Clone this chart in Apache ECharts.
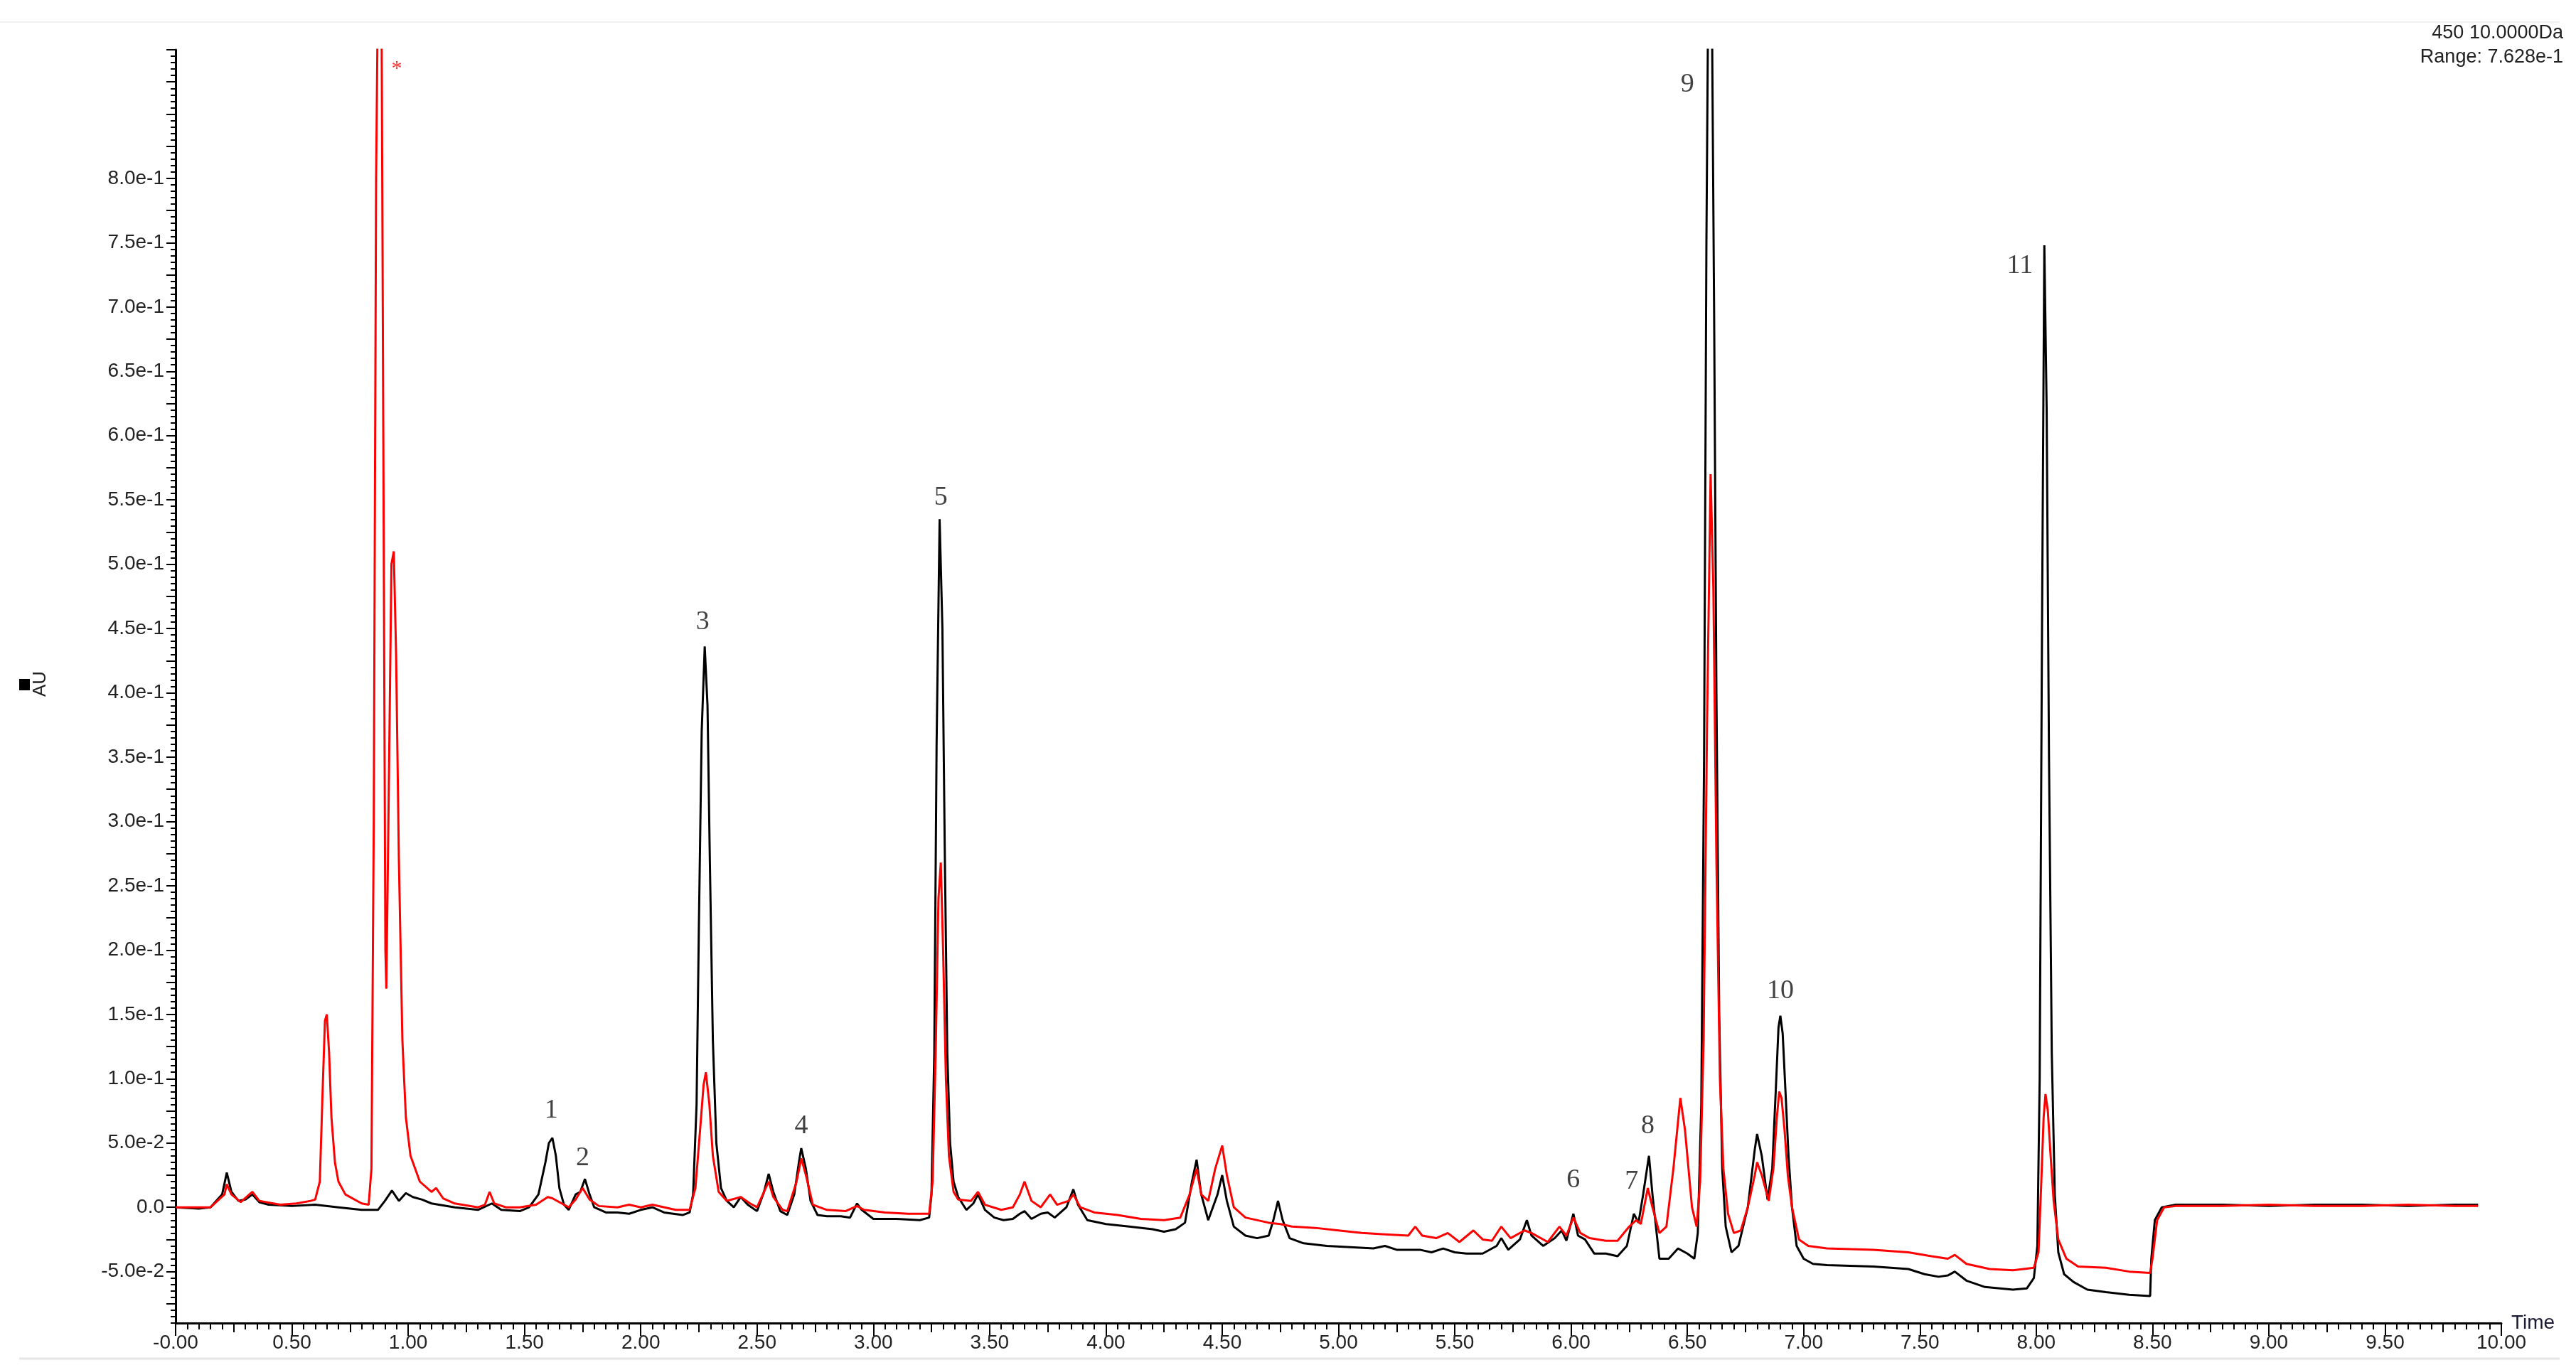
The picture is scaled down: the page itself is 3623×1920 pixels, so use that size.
<!DOCTYPE html>
<html>
<head>
<meta charset="utf-8">
<script src="https://cdn.jsdelivr.net/npm/echarts@6/dist/echarts.min.js"></script>
<style>
html,body{margin:0;padding:0;background:#fff;}
#chart{width:3623px;height:1920px;}
</style>
</head>
<body>
<div id="chart"></div>
<script>
// ---- data ----
const blackT = [0.00,0.10,0.15,0.18,0.20,0.22,0.24,0.27,0.30,0.33,0.36,0.40,0.50,0.60,0.70,0.80,0.87,0.90,0.93,0.96,0.99,1.02,1.06,1.10,1.20,1.30,1.36,1.40,1.48,1.52,1.56,1.59,1.605,1.62,1.635,1.65,1.67,1.69,1.72,1.74,1.76,1.78,1.80,1.85,1.90,1.95,2.00,2.05,2.10,2.18,2.21,2.225,2.24,2.25,2.262,2.275,2.287,2.297,2.31,2.325,2.345,2.37,2.40,2.43,2.46,2.50,2.53,2.55,2.57,2.60,2.63,2.66,2.68,2.69,2.71,2.73,2.76,2.80,2.86,2.90,2.93,2.95,3.00,3.10,3.20,3.24,3.25,3.262,3.272,3.285,3.297,3.307,3.318,3.33,3.345,3.365,3.40,3.43,3.45,3.48,3.52,3.56,3.60,3.63,3.65,3.68,3.72,3.75,3.78,3.83,3.86,3.88,3.92,4.00,4.10,4.20,4.25,4.30,4.34,4.37,4.39,4.41,4.44,4.48,4.50,4.52,4.55,4.60,4.65,4.70,4.72,4.74,4.76,4.79,4.85,4.95,5.05,5.15,5.20,5.25,5.35,5.40,5.45,5.50,5.55,5.62,5.68,5.70,5.73,5.78,5.81,5.83,5.88,5.93,5.96,5.98,6.01,6.03,6.06,6.10,6.15,6.20,6.24,6.27,6.29,6.31,6.335,6.35,6.38,6.42,6.46,6.50,6.53,6.545,6.56,6.572,6.582,6.59,6.605,6.615,6.625,6.637,6.65,6.665,6.69,6.72,6.76,6.79,6.80,6.82,6.845,6.865,6.88,6.892,6.90,6.91,6.922,6.935,6.95,6.97,7.00,7.04,7.10,7.30,7.45,7.52,7.58,7.62,7.65,7.70,7.78,7.90,7.96,7.99,8.005,8.015,8.025,8.035,8.045,8.055,8.067,8.08,8.095,8.12,8.16,8.22,8.30,8.40,8.49,8.495,8.51,8.54,8.60,8.80,9.00,9.20,9.40,9.60,9.80,9.90];
const blackV = [0.000,-0.001,0.000,0.006,0.010,0.027,0.012,0.005,0.006,0.010,0.004,0.002,0.001,0.002,0.000,-0.002,-0.002,0.005,0.013,0.005,0.011,0.008,0.006,0.003,0.000,-0.002,0.003,-0.002,-0.003,0.000,0.010,0.035,0.050,0.054,0.040,0.015,0.002,-0.002,0.010,0.012,0.022,0.010,0.000,-0.004,-0.004,-0.005,-0.002,0.000,-0.004,-0.006,-0.004,0.010,0.080,0.220,0.370,0.436,0.390,0.270,0.130,0.050,0.015,0.005,0.000,0.008,0.002,-0.003,0.012,0.026,0.012,-0.003,-0.006,0.010,0.035,0.046,0.030,0.005,-0.006,-0.007,-0.007,-0.008,0.003,-0.002,-0.009,-0.009,-0.010,-0.008,0.010,0.120,0.360,0.535,0.450,0.280,0.120,0.050,0.020,0.008,-0.002,0.003,0.010,-0.002,-0.008,-0.010,-0.009,-0.005,-0.003,-0.009,-0.005,-0.004,-0.008,0.000,0.014,0.002,-0.010,-0.013,-0.015,-0.017,-0.019,-0.017,-0.012,0.020,0.037,0.010,-0.010,0.010,0.025,0.005,-0.015,-0.022,-0.024,-0.022,-0.010,0.005,-0.010,-0.024,-0.028,-0.030,-0.031,-0.032,-0.030,-0.033,-0.033,-0.035,-0.032,-0.035,-0.036,-0.036,-0.030,-0.024,-0.033,-0.025,-0.010,-0.022,-0.030,-0.024,-0.018,-0.026,-0.005,-0.022,-0.025,-0.036,-0.036,-0.038,-0.030,-0.005,-0.012,0.010,0.040,0.010,-0.040,-0.040,-0.032,-0.036,-0.040,-0.020,0.080,0.350,0.750,0.950,0.950,0.700,0.400,0.150,0.030,-0.015,-0.035,-0.030,0.000,0.045,0.057,0.040,0.006,0.030,0.090,0.140,0.149,0.135,0.090,0.040,0.000,-0.030,-0.040,-0.044,-0.045,-0.046,-0.048,-0.052,-0.054,-0.053,-0.050,-0.057,-0.062,-0.064,-0.063,-0.055,-0.030,0.100,0.450,0.748,0.620,0.350,0.120,0.010,-0.035,-0.052,-0.058,-0.064,-0.066,-0.068,-0.069,-0.040,-0.010,0.000,0.002,0.002,0.001,0.002,0.002,0.001,0.002,0.002];

const redT = [0.00,0.15,0.18,0.21,0.22,0.24,0.28,0.33,0.36,0.45,0.52,0.58,0.60,0.62,0.632,0.642,0.65,0.66,0.67,0.685,0.70,0.73,0.80,0.83,0.842,0.852,0.862,0.87,0.885,0.893,0.902,0.906,0.915,0.928,0.938,0.948,0.96,0.975,0.99,1.01,1.05,1.10,1.12,1.15,1.20,1.30,1.33,1.35,1.37,1.42,1.48,1.55,1.60,1.62,1.66,1.69,1.72,1.75,1.78,1.82,1.90,1.95,2.00,2.05,2.15,2.21,2.235,2.255,2.27,2.28,2.295,2.31,2.335,2.37,2.43,2.47,2.50,2.53,2.55,2.57,2.61,2.63,2.67,2.69,2.71,2.74,2.80,2.88,2.93,2.96,3.05,3.15,3.24,3.255,3.268,3.28,3.29,3.30,3.312,3.325,3.345,3.365,3.42,3.45,3.48,3.55,3.60,3.63,3.65,3.68,3.72,3.76,3.79,3.84,3.86,3.89,3.95,4.05,4.15,4.25,4.32,4.36,4.39,4.41,4.44,4.47,4.50,4.52,4.55,4.60,4.70,4.75,4.80,4.90,5.00,5.10,5.20,5.30,5.33,5.36,5.42,5.47,5.52,5.58,5.62,5.66,5.70,5.74,5.80,5.83,5.90,5.95,5.98,6.01,6.04,6.08,6.15,6.20,6.25,6.28,6.30,6.33,6.35,6.38,6.41,6.44,6.47,6.49,6.52,6.54,6.555,6.57,6.585,6.60,6.612,6.625,6.64,6.655,6.675,6.70,6.73,6.76,6.79,6.80,6.82,6.85,6.87,6.885,6.895,6.905,6.918,6.932,6.95,6.98,7.02,7.10,7.30,7.45,7.55,7.62,7.65,7.70,7.80,7.90,7.99,8.01,8.022,8.032,8.04,8.05,8.062,8.075,8.095,8.13,8.18,8.30,8.40,8.49,8.50,8.52,8.55,8.60,8.80,9.00,9.20,9.40,9.60,9.80,9.90];
const redV = [0.000,0.000,0.005,0.010,0.018,0.010,0.004,0.012,0.005,0.002,0.003,0.005,0.006,0.020,0.090,0.145,0.150,0.120,0.070,0.035,0.020,0.010,0.003,0.002,0.030,0.300,0.800,0.950,0.950,0.600,0.200,0.170,0.300,0.500,0.510,0.430,0.270,0.130,0.070,0.040,0.020,0.012,0.015,0.007,0.003,0.000,0.002,0.012,0.003,0.000,0.000,0.002,0.008,0.007,0.003,0.000,0.006,0.015,0.006,0.001,0.000,0.002,0.000,0.002,-0.002,-0.002,0.015,0.060,0.095,0.105,0.080,0.040,0.012,0.005,0.008,0.003,0.000,0.012,0.020,0.008,-0.002,-0.003,0.020,0.038,0.025,0.002,-0.002,-0.003,0.001,-0.002,-0.004,-0.005,-0.005,0.020,0.120,0.240,0.268,0.200,0.100,0.040,0.012,0.006,0.005,0.012,0.002,-0.002,0.000,0.010,0.020,0.005,0.000,0.010,0.002,0.005,0.010,0.000,-0.004,-0.006,-0.009,-0.010,-0.008,0.010,0.030,0.010,0.005,0.030,0.048,0.025,0.000,-0.008,-0.012,-0.013,-0.015,-0.016,-0.018,-0.020,-0.021,-0.022,-0.015,-0.022,-0.024,-0.020,-0.027,-0.018,-0.025,-0.026,-0.015,-0.024,-0.018,-0.020,-0.027,-0.015,-0.022,-0.008,-0.020,-0.024,-0.026,-0.026,-0.015,-0.010,-0.013,0.015,0.000,-0.020,-0.015,0.030,0.085,0.060,0.000,-0.015,0.020,0.130,0.380,0.570,0.480,0.270,0.100,0.030,-0.005,-0.020,-0.018,0.000,0.025,0.035,0.025,0.005,0.030,0.070,0.090,0.085,0.060,0.025,0.000,-0.025,-0.030,-0.032,-0.033,-0.035,-0.038,-0.040,-0.037,-0.044,-0.048,-0.049,-0.047,-0.035,0.020,0.070,0.088,0.075,0.040,0.005,-0.025,-0.040,-0.046,-0.047,-0.050,-0.051,-0.040,-0.010,0.000,0.001,0.001,0.002,0.001,0.001,0.002,0.001,0.001];

// peak annotations
const peakNames = ['*','1','2','3','4','5','6','7','8','9','10','11'];
const peakT = [0.951,1.615,1.75,2.266,2.69,3.29,6.01,6.26,6.33,6.50,6.90,7.93];
const peakV = [0.885,0.075,0.038,0.455,0.063,0.552,0.021,0.020,0.063,0.873,0.168,0.732];

// axis tick labels
const yLabelValues = [-0.05,0,0.05,0.1,0.15,0.2,0.25,0.3,0.35,0.4,0.45,0.5,0.55,0.6,0.65,0.7,0.75,0.8];
const yMidTicks = [-0.075,-0.05,-0.025,0,0.025,0.05,0.075,0.1,0.125,0.15,0.175,0.2,0.225,0.25,0.275,0.3,0.325,0.35,0.375,0.4,0.425,0.45,0.475,0.5,0.525,0.55,0.575,0.6,0.625,0.65,0.675,0.7,0.725,0.75,0.775,0.8,0.825,0.85,0.875,0.9];

const blackData = blackT.map((t, i) => [t, blackV[i]]);
const redData = redT.map((t, i) => [t, redV[i]]);
const peakData = peakNames.map((n, i) => ({
  value: [peakT[i], peakV[i], n],
  label: n === '*' ? {color: '#ff0000', fontSize: 30, fontFamily: 'Liberation Serif'} : {}
}));

const FONT = 'Liberation Sans';
const LBL = '#222222';

function fmtY(v) {
  if (Math.abs(v) < 1e-9) return '0.0';
  return v.toExponential(1);
}

const chart = echarts.init(document.getElementById('chart'), null, {renderer: 'canvas'});
chart.setOption({
  backgroundColor: '#ffffff',
  animation: false,
  grid: {left: 247, right: 105, top: 70, bottom: 59, containLabel: false, outerBoundsMode: 'none'},
  xAxis: [{
    type: 'value', min: 0, max: 10, interval: 0.5,
    name: 'Time', nameLocation: 'end', nameGap: 14,
    nameTextStyle: {fontFamily: FONT, fontSize: 28, color: '#1a1a33'},
    axisLine: {show: true, onZero: false, lineStyle: {color: '#000', width: 3}},
    axisTick: {show: true, length: 18, lineStyle: {color: '#000', width: 2}},
    minorTick: {show: true, splitNumber: 10, length: 9, lineStyle: {color: '#000', width: 2}},
    axisLabel: {fontFamily: FONT, fontSize: 28, color: LBL, margin: 14,
      formatter: v => (Math.abs(v) < 1e-9 ? '-0.00' : v.toFixed(2))},
    splitLine: {show: false}, minorSplitLine: {show: false}
  }, {
    type: 'value', min: 0, max: 10, interval: 0.25, position: 'bottom', gridIndex: 0,
    axisLine: {show: false, onZero: false}, axisLabel: {show: false}, splitLine: {show: false},
    axisTick: {show: true, length: 13, lineStyle: {color: '#000', width: 2}}
  }],
  yAxis: [{
    type: 'value', min: -0.09, max: 0.9, interval: 0.005,
    axisLine: {show: true, onZero: false, lineStyle: {color: '#000', width: 3}},
    axisTick: {show: true, length: 7, lineStyle: {color: '#000', width: 2}},
    axisLabel: {show: false}, splitLine: {show: false}
  }, {
    type: 'value', min: -0.09, max: 0.9, position: 'left', offset: 0,
    axisLine: {show: false, onZero: false},
    axisTick: {show: true, length: 13, customValues: yMidTicks, lineStyle: {color: '#000', width: 2}},
    axisLabel: {show: true, customValues: yLabelValues, formatter: fmtY,
      fontFamily: FONT, fontSize: 28, color: LBL, margin: 16},
    splitLine: {show: false}
  }],
  series: [{
    name: 'black', type: 'line', data: blackData, xAxisIndex: 0, yAxisIndex: 0,
    showSymbol: false, symbol: 'none', clip: true,
    lineStyle: {color: '#000000', width: 3}, z: 2
  }, {
    name: 'red', type: 'line', data: redData, xAxisIndex: 0, yAxisIndex: 0,
    showSymbol: false, symbol: 'none', clip: true,
    lineStyle: {color: '#ff0000', width: 3}, z: 3
  }, {
    name: 'peaks', type: 'scatter', data: peakData, xAxisIndex: 0, yAxisIndex: 0,
    symbolSize: 0, clip: false, z: 5,
    label: {show: true, position: 'inside', formatter: p => p.value[2],
      fontFamily: 'Liberation Serif', fontSize: 38, color: '#111111'}
  }],
  graphic: [
    {type: 'text', right: 18, top: 33, style: {text: '450 10.0000Da', font: '27px "Liberation Sans"', fill: '#222'}},
    {type: 'text', right: 18, top: 67, style: {text: 'Range: 7.628e-1', font: '27px "Liberation Sans"', fill: '#222'}},
    {type: 'rect', shape: {x: 27, y: 955, width: 15, height: 16}, style: {fill: '#000'}},
    {type: 'text', x: 57, y: 962, rotation: Math.PI / 2,
      style: {text: 'AU', font: '26px "Liberation Sans"', fill: '#222', textAlign: 'center', textVerticalAlign: 'middle'}},
    {type: 'line', shape: {x1: 0, y1: 31, x2: 3600, y2: 31}, style: {stroke: '#f0f0f0', lineWidth: 2}},
    {type: 'line', shape: {x1: 27, y1: 1911, x2: 3600, y2: 1911}, style: {stroke: '#e6e6e6', lineWidth: 3}}
  ]
});
</script>
</body>
</html>
